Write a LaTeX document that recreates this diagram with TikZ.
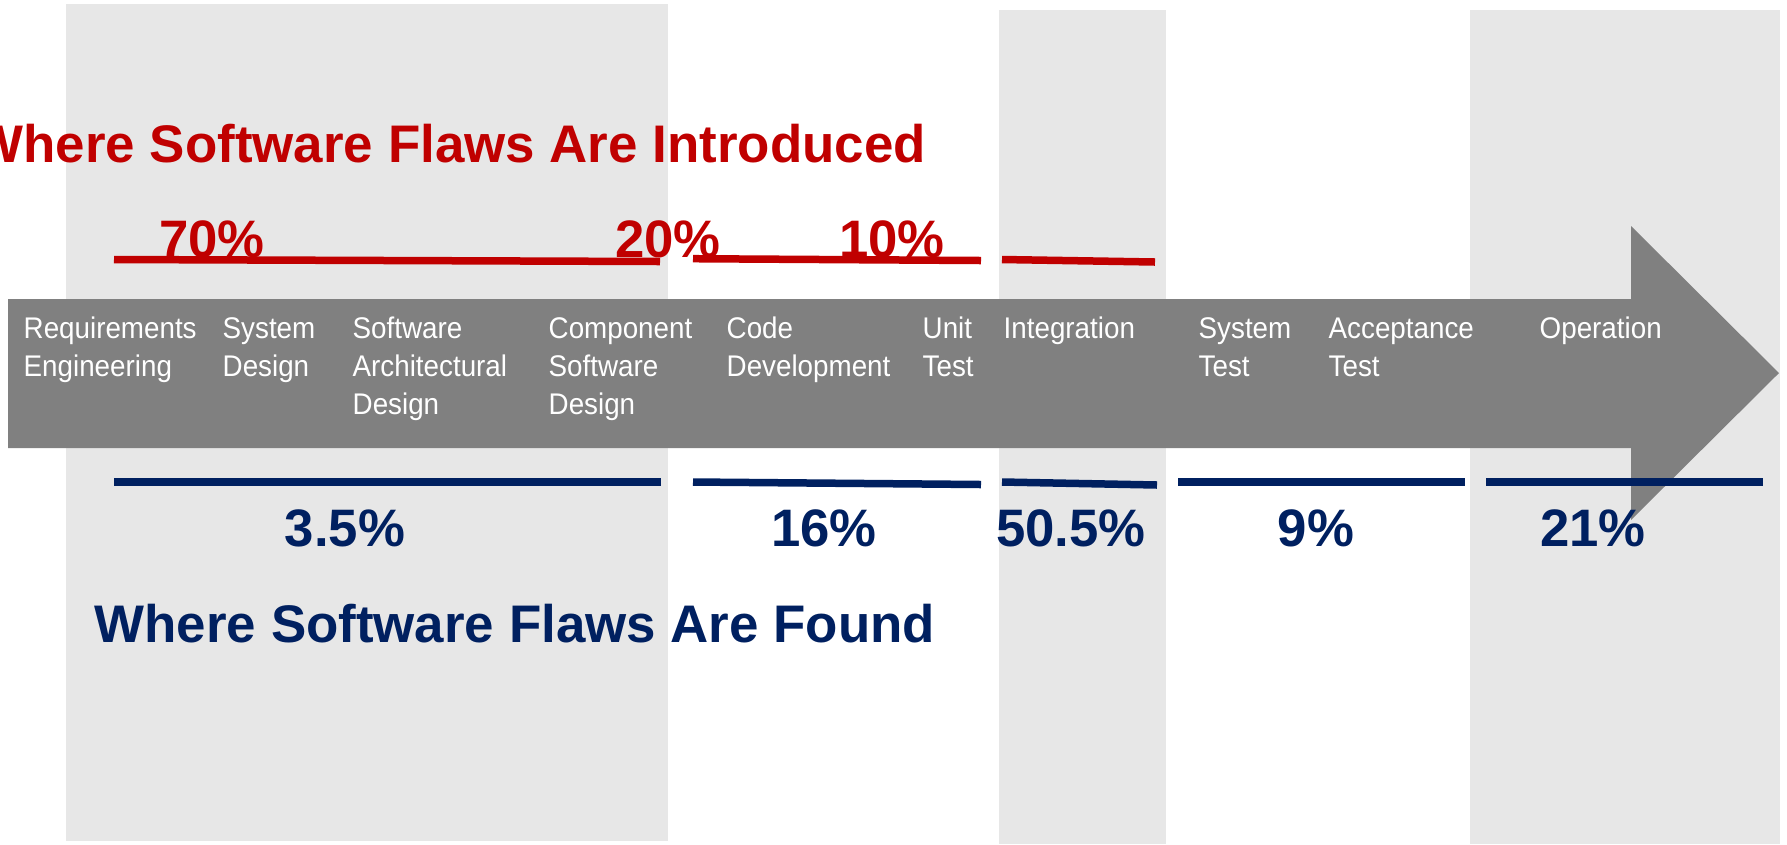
\documentclass[tikz,border=0pt]{standalone}
\usepackage{fontspec}
\setmainfont{Liberation Sans}
\newfontfamily\stagefont{Liberation Sans}[FakeStretch=0.93]
\usetikzlibrary{calc}
\definecolor{flawred}{HTML}{C00000}
\definecolor{flawblue}{HTML}{002060}
\definecolor{bandgray}{HTML}{E7E7E7}
\definecolor{arrowgray}{HTML}{808080}
\newcommand*{\pageW  }{1787}
\newcommand*{\pageH  }{844}
\newcommand*{\stageY }{338}
\newcommand*{\introY }{257}
\newcommand*{\foundY }{546}
\newcommand*{\phaselines}[1]{\begin{tabular}[t]{@{}l@{}}#1\end{tabular}}

\begin{document}
\begin{tikzpicture}[x=0.1mm, y=-0.1mm,
        band/.style={fill=bandgray, draw=none},
        stage/.style={anchor=base west, inner sep=0, text=white,
            font=\stagefont\fontsize{8.5}{10.9}\selectfont},
        pct/.style={anchor=base, inner sep=0, font=\bfseries\fontsize{15}{18}\selectfont},
        bar/.style={line width=0.75mm},
        title/.style={anchor=base west, inner sep=0, font=\bfseries\fontsize{15.05}{18}\selectfont}]
    \useasboundingbox (0,0) rectangle (\pageW,\pageH);
    \clip (0,0) rectangle (\pageW,\pageH);
        \fill [band] (66,4) rectangle (668,841);
        \fill [band] (999,10) rectangle (1166,\pageH);
        \fill [band] (1470,10) rectangle (1780,\pageH);
        \fill [arrowgray] (8,299) -- (1631,299) -- (1631,226) -- (1779,373) -- (1631,520) -- (1631,448) -- (8,448) -- cycle;
        % phases along the arrow
        \node [stage] (req)   at (23,\stageY)   {\phaselines{Requirements\\Engineering}};
        \node [stage] (sysd)  at (222,\stageY)  {\phaselines{System\\Design}};
        \node [stage] (arch)  at (352,\stageY)  {\phaselines{Software\\Architectural\\Design}};
        \node [stage] (comp)  at (548,\stageY)  {\phaselines{Component\\Software\\Design}};
        \node [stage] (code)  at (726,\stageY)  {\phaselines{Code\\Development}};
        \node [stage] (unit)  at (922,\stageY)  {\phaselines{Unit\\Test}};
        \node [stage] (integ) at (1003,\stageY) {\phaselines{Integration}};
        \node [stage] (syst)  at (1198,\stageY) {\phaselines{System\\Test}};
        \node [stage] (accp)  at (1328,\stageY) {\phaselines{Acceptance\\Test}};
        \node [stage] (oper)  at (1539,\stageY) {\phaselines{Operation}};
        % introduced
        \node [title, text=flawred] (introTitle) at (-27,162) {Where Software Flaws Are Introduced};
        \draw [bar, flawred] (114,259.5) -- (660,261.5);
        \draw [bar, flawred] (693,258.7) -- (981,260.5);
        \draw [bar, flawred] (1002,259.5) -- (1155,262);
        \node [pct, text=flawred] (introReq)  at (212,\introY) {70\%};
        \node [pct, text=flawred] (introDes)  at (668,\introY) {20\%};
        \node [pct, text=flawred] (introCode) at (892,\introY) {10\%};
        % found
        \draw [bar, flawblue] (114,482) -- (661,482);
        \draw [bar, flawblue] (693,482) -- (981,484.5);
        \draw [bar, flawblue] (1002,482) -- (1157,485);
        \draw [bar, flawblue] (1178,482) -- (1465,482);
        \draw [bar, flawblue] (1486,482) -- (1763,482);
        \node [pct, text=flawblue] (foundReq)   at (345,\foundY)  {3.5\%};
        \node [pct, text=flawblue] (foundCode)  at (824,\foundY)  {16\%};
        \node [pct, text=flawblue] (foundInteg) at (1071,\foundY) {50.5\%};
        \node [pct, text=flawblue] (foundTest)  at (1316,\foundY) {9\%};
        \node [pct, text=flawblue] (foundOper)  at (1593,\foundY) {21\%};
        \node [title, text=flawblue] (foundTitle) at (94,642) {Where Software Flaws Are Found};
    \end{tikzpicture}
\end{document}
